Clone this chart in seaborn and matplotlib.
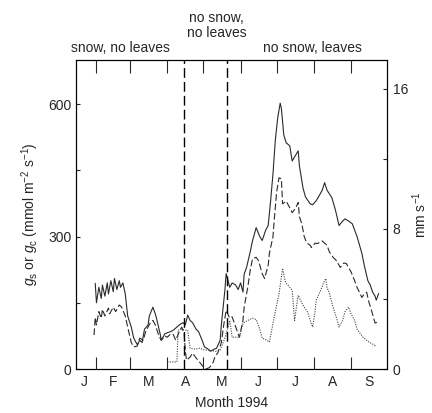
import matplotlib
matplotlib.use("Agg")
import matplotlib.pyplot as plt
import numpy as np
import pandas as pd
import seaborn as sns
from matplotlib.ticker import FixedLocator, NullFormatter, FixedFormatter

# day of year / conductance in mmol m-2 s-1
solid_day = [31, 32, 34, 36, 37, 39, 41, 42, 44, 46, 47, 49, 51, 52, 54, 56, 58, 61, 63, 66,
             68, 70, 72, 75, 76, 79, 81, 82, 85, 86, 89, 91, 94, 96, 99, 101, 104, 106, 108, 110,
             112, 115, 117, 120, 122, 125, 127, 130, 132, 135, 136, 139, 140, 143, 145, 148, 150,
             152, 154, 155, 157, 160, 162, 165, 168, 170, 173, 175, 177, 179, 181, 183, 185, 186,
             188, 190, 191, 193, 195, 198, 200, 201, 204, 206, 210, 212, 215, 218, 220, 222, 224,
             228, 231, 234, 237, 239, 242, 245, 249, 253, 255, 258, 260, 262, 264, 265, 267]
solid_val = [194, 150, 185, 160, 190, 165, 195, 170, 200, 175, 205, 180, 200, 185, 195, 170,
             120, 95, 70, 55, 65, 60, 90, 100, 120, 140, 125, 115, 80, 65, 80, 82, 85, 88, 95,
             100, 105, 100, 122, 110, 105, 90, 85, 65, 50, 45, 40, 45, 47, 65, 100, 180, 216,
             185, 195, 190, 180, 195, 174, 215, 230, 265, 291, 320, 300, 291, 315, 325, 380, 442,
             520, 570, 602, 590, 530, 512, 510, 505, 471, 485, 494, 460, 410, 390, 374, 372, 381,
             395, 405, 422, 405, 388, 360, 325, 335, 340, 335, 329, 300, 262, 235, 200, 190, 174,
             165, 156, 171]

dashed_day = [30, 31, 32, 34, 36, 37, 39, 42, 43, 46, 48, 51, 53, 56, 58, 61, 63, 66, 68, 71,
              73, 75, 77, 79, 81, 84, 86, 89, 91, 94, 96, 98, 101, 103, 105, 106, 107, 110, 112,
              115, 118, 121, 123, 126, 129, 131, 133, 136, 138, 140, 143, 145, 148, 151, 154, 155,
              158, 160, 162, 165, 167, 170, 172, 175, 176, 179, 180, 182, 184, 186, 187, 190, 192,
              194, 195, 198, 200, 201, 203, 205, 207, 210, 211, 214, 216, 220, 224, 226, 229, 232,
              235, 238, 240, 244, 247, 249, 253, 255, 257, 259, 261, 264, 265, 267]
dashed_val = [77, 117, 100, 130, 115, 135, 120, 138, 125, 140, 130, 145, 140, 120, 95, 60, 50,
              52, 70, 65, 85, 95, 105, 110, 100, 75, 65, 75, 72, 80, 78, 65, 85, 95, 81, 40, 20,
              27, 36, 25, 15, 5, 0, 3, 14, 30, 36, 60, 100, 133, 115, 118, 95, 72, 110, 140, 185,
              223, 250, 253, 245, 216, 205, 235, 262, 300, 336, 400, 433, 431, 374, 380, 370, 360,
              354, 365, 377, 345, 329, 300, 286, 280, 275, 285, 284, 290, 280, 265, 253, 245, 230,
              240, 239, 220, 200, 185, 162, 170, 174, 150, 133, 104, 105, 110]

dotted_day = [91, 95, 99, 100, 103, 106, 108, 110, 114, 118, 122, 126, 131, 135, 139, 143, 145,
              148, 151, 154, 158, 162, 165, 168, 170, 174, 176, 180, 184, 187, 189, 190, 193, 195,
              197, 199, 200, 203, 205, 208, 210, 212, 214, 215, 219, 221, 223, 224, 226, 229, 232,
              234, 237, 239, 242, 244, 247, 249, 254, 257, 259, 263, 265]
dotted_val = [16, 16, 16, 88, 90, 88, 88, 47, 45, 47, 43, 43, 40, 43, 70, 110, 72, 72, 72, 104,
              110, 115, 112, 90, 70, 65, 61, 117, 170, 228, 200, 194, 185, 178, 110, 150, 167, 150,
              140, 128, 110, 95, 130, 156, 180, 195, 205, 185, 171, 140, 115, 95, 110, 130, 140,
              125, 110, 90, 72, 65, 61, 55, 50]

month_starts = [32, 60, 91, 121, 152, 182, 213, 244]
month_centres = [22, 46, 75.5, 106, 136.5, 167, 197.5, 228.5, 259]
month_labels = ["J", "F", "M", "A", "M", "J", "J", "A", "S"]
period_bounds = [105, 141]
period_text = ["snow, no leaves", "no snow,\nno leaves", "no snow, leaves"]
period_x = [52, 132, 212]
period_y = [1.026, 1.074, 1.026]

sns.set_style("ticks")
plt.rcParams["font.family"] = ["Liberation Sans", "DejaVu Sans"]
plt.rcParams["mathtext.fontset"] = "custom"
plt.rcParams["mathtext.rm"] = "Liberation Sans"
plt.rcParams["mathtext.it"] = "Liberation Sans:italic"

fig = plt.figure(figsize=(4.32, 4.13), dpi=100)
ax = fig.add_axes([0.176, 0.1065, 0.72, 0.7485])

ink = "#2a2a2a"
sns.lineplot(x=solid_day, y=solid_val, ax=ax, color=ink, linewidth=0.8)
sns.lineplot(x=dashed_day, y=dashed_val, ax=ax, color=ink, linewidth=0.8,
             linestyle=(0, (6, 2.5)))
sns.lineplot(x=dotted_day, y=dotted_val, ax=ax, color="#444444", linewidth=0.8,
             linestyle=(0, (1, 1.2)))

for b in period_bounds:
    ax.axvline(b, color="black", linewidth=1.0, linestyle=(0, (7, 3)))

ax.set_xlim(15, 274)
ax.set_ylim(0, 700)

ax.xaxis.set_major_locator(FixedLocator(month_starts))
ax.xaxis.set_major_formatter(NullFormatter())
ax.xaxis.set_minor_locator(FixedLocator(month_centres))
ax.xaxis.set_minor_formatter(FixedFormatter(month_labels))
ax.tick_params(axis="x", which="major", direction="in", length=9, width=0.8,
               top=True, bottom=True)
ax.tick_params(axis="x", which="minor", length=0, pad=4, labelsize=10)

ax.set_yticks([0, 300, 600])
ax.set_yticks([150, 450], minor=True)
ax.tick_params(axis="y", which="both", direction="in", length=3, width=0.8,
               labelsize=10, pad=3.5)

ax2 = ax.twinx()
ax2.set_ylim(0, 17.66)
ax2.set_yticks([0, 8, 16])
ax2.set_yticks([4, 12], minor=True)
ax2.tick_params(axis="y", which="both", direction="in", length=3, width=0.8,
                labelsize=10, pad=4)
ax2.set_ylabel("mm s$^{-1}$", fontsize=10, labelpad=2)

for a in (ax, ax2):
    for s in a.spines.values():
        s.set_visible(True)
        s.set_linewidth(0.8)
        s.set_color("black")

ax.set_xlabel("Month 1994", fontsize=10, labelpad=5)
ax.set_ylabel(r"$g_\mathrm{s}$ or $g_\mathrm{c}$ (mmol m$^{-2}$ s$^{-1}$)", fontsize=10,
              labelpad=5)

trans = ax.get_xaxis_transform()
for txt, px, py in zip(period_text, period_x, period_y):
    ax.text(px, py, txt, transform=trans, ha="center", va="baseline", fontsize=10,
            linespacing=1.1)

fig.savefig("out.png", dpi=100)
